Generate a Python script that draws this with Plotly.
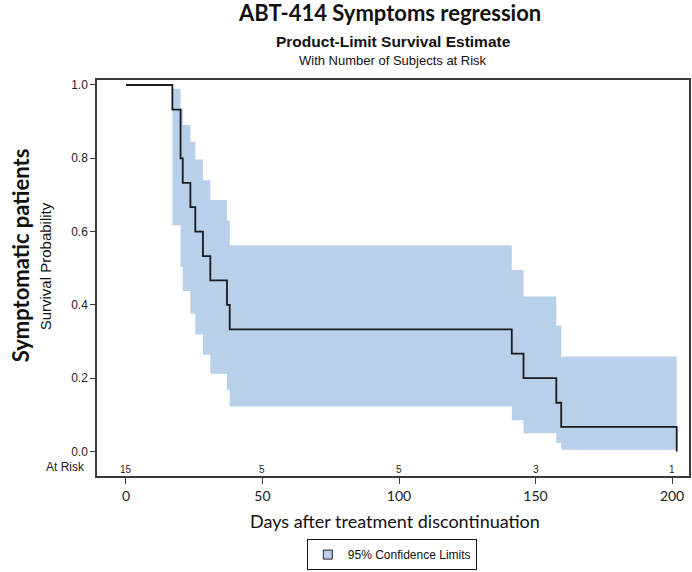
import plotly.graph_objects as go

# ---- data ----
event_times = [17.0, 20.0, 20.8, 23.6, 25.4, 28.2, 30.9, 37.0, 38.0, 141.3, 145.6, 157.6, 159.4, 201.7]
survival = [0.933, 0.800, 0.733, 0.667, 0.600, 0.533, 0.467, 0.400, 0.333, 0.267, 0.200, 0.133, 0.067, 0.0]
ci_upper = [0.990, 0.936, 0.891, 0.845, 0.797, 0.740, 0.686, 0.630, 0.563, 0.495, 0.423, 0.344, 0.259]
ci_lower = [0.617, 0.504, 0.438, 0.376, 0.319, 0.264, 0.212, 0.167, 0.123, 0.085, 0.050, 0.023, 0.005]
risk_times = [0, 50, 100, 150, 200]
risk_counts = [15, 5, 5, 3, 1]
x_ticks = [0, 50, 100, 150, 200]
y_ticks = [0.0, 0.2, 0.4, 0.6, 0.8, 1.0]

BAND = "#b9d0ea"
LINE = "#1b1b1f"
FRAME = "#3a3a3a"
CAL = "Lato, 'Open Sans', sans-serif"
ARIAL = "'Liberation Sans', Arial, sans-serif"

# step-polygon for confidence band
bx, by = [], []
for i in range(len(ci_upper)):
    bx += [event_times[i], event_times[i + 1]]
    by += [ci_upper[i], ci_upper[i]]
for i in reversed(range(len(ci_lower))):
    bx += [event_times[i + 1], event_times[i]]
    by += [ci_lower[i], ci_lower[i]]

fig = go.Figure()
fig.add_trace(go.Scatter(x=bx, y=by, fill="toself", fillcolor=BAND, mode="lines",
                         line=dict(width=0, color=BAND), showlegend=False, hoverinfo="skip"))
fig.add_trace(go.Scatter(x=[0] + event_times, y=[1.0] + survival, mode="lines",
                         line=dict(shape="hv", color=LINE, width=1.8), showlegend=False))
fig.add_trace(go.Scatter(x=[None], y=[None], mode="markers", name="95% Confidence Limits",
                         marker=dict(symbol="square", size=9, color=BAND,
                                     line=dict(color="#222", width=1))))

for t, n in zip(risk_times, risk_counts):
    fig.add_annotation(x=t, y=-0.048, xref="x", yref="y", text=str(n), showarrow=False,
                       font=dict(family=ARIAL, size=10, color="#222"))

ann = [
    dict(text="<b>ABT-414 Symptoms regression</b>", x=0.4933, y=1.1717, size=22, fam=CAL, angle=0),
    dict(text="<b>Product-Limit Survival Estimate</b>", x=0.5, y=1.096, size=15.5, fam=ARIAL, angle=0),
    dict(text="With Number of Subjects at Risk", x=0.5, y=1.048, size=13, fam=ARIAL, angle=0),
    dict(text="<b>Symptomatic patients</b>", x=-0.1296, y=0.558, size=22, fam=CAL, angle=-90),
    dict(text="Survival Probability", x=-0.0875, y=0.530, size=15, fam=ARIAL, angle=-90),
    dict(text="Days after treatment discontinuation", x=0.503, y=-0.113, size=18, fam=CAL, angle=0),
]
for a in ann:
    fig.add_annotation(text=a["text"], x=a["x"], y=a["y"], xref="paper", yref="paper",
                       showarrow=False, textangle=a["angle"], xanchor="center", yanchor="middle",
                       font=dict(family=a["fam"], size=a["size"], color="#111"))
fig.add_annotation(text="At Risk", x=-0.0168, y=0.0227, xref="paper", yref="paper",
                   showarrow=False, xanchor="right", yanchor="middle",
                   font=dict(family=ARIAL, size=12, color="#222"))

fig.update_layout(
    width=692, height=572,
    margin=dict(l=97, r=1, t=80, b=96),
    paper_bgcolor="white", plot_bgcolor="white",
    xaxis=dict(range=[-10.6, 206.2], tickvals=x_ticks, ticks="outside", ticklen=6,
               tickcolor=FRAME, showline=True, linecolor=FRAME, linewidth=1.5, mirror=True,
               showgrid=False, zeroline=False,
               tickfont=dict(family=CAL, size=14, color="#222")),
    yaxis=dict(range=[-0.0668, 1.0136], tickvals=y_ticks, tickformat=".1f", ticks="outside",
               ticklen=5, tickcolor=FRAME, showline=True, linecolor=FRAME, linewidth=1.5,
               mirror=True, showgrid=False, zeroline=False,
               tickfont=dict(family=ARIAL, size=12, color="#222")),
    legend=dict(x=0.498, y=-0.1985, xanchor="center", yanchor="middle", orientation="h",
                bordercolor="#111", borderwidth=1, bgcolor="white",
                font=dict(family=ARIAL, size=12, color="#111"),
                itemwidth=30, tracegroupgap=0),
    showlegend=True,
)

# remove the page's default body margin so the figure sits at the window's corner
fig.write_html("out.html", config={"displayModeBar": False},
               post_script="document.body.style.margin='0';document.body.style.overflow='hidden';")
